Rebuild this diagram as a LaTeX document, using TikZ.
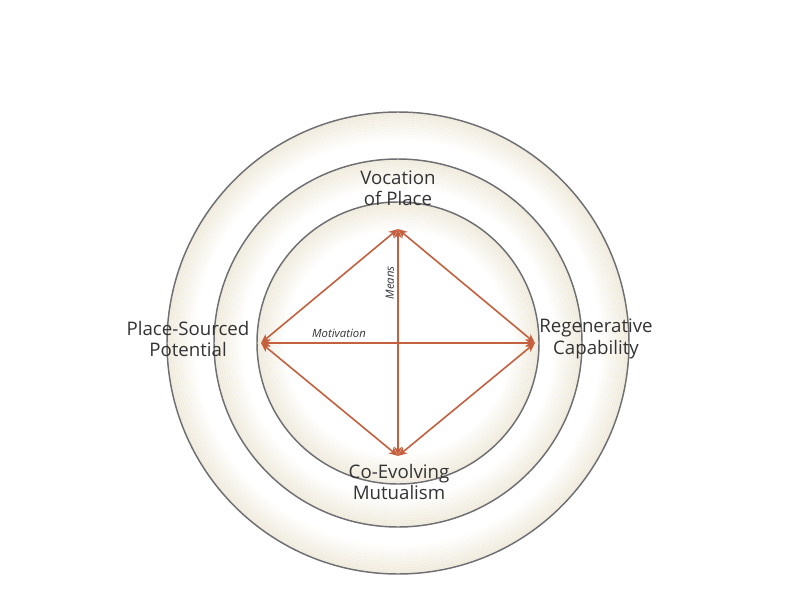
\documentclass[tikz,border=0pt]{standalone}
\usepackage{fontspec}
\setmainfont{Open Sans}
\usetikzlibrary{arrows.meta}
\definecolor{rust}{RGB}{196,96,62}
\definecolor{sand}{RGB}{228,220,196}
\definecolor{ringgray}{RGB}{110,110,115}
\tikzset{
  ring/.style={draw=ringgray, line width=1.1pt},
  link/.style={rust, line width=1.2pt, {Stealth[length=7pt,width=6pt]}-{Stealth[length=7pt,width=6pt]}},
  label/.style={align=center, font=\fontsize{14}{16}\selectfont, text=black!80},
  tag/.style={font=\fontsize{8.5}{10}\selectfont\itshape, text=black!80}
}
\begin{document}
\begin{tikzpicture}[x=0.75pt,y=-0.75pt]
\useasboundingbox (0,0) rectangle (800,600);
\coordinate (O) at (398,343);
%shaded bands
\foreach \r in {231,184,141}{
  \foreach \k in {0,...,13}{
    \pgfmathsetmacro\op{0.45*(1-\k/14)}
    \draw[sand, opacity=\op, line width=2pt] (O) circle ({\r-1-2*\k});
  }
}
%rings
\foreach \r in {231,184,141}{
  \draw[ring] (O) circle (\r);
}
%corners
\coordinate (T) at (398,229);
\coordinate (B) at (398,456);
\coordinate (L) at (261,343);
\coordinate (R) at (535,343);
\node[label] (top) at (398,188) {Vocation\\of Place};
\node[label] (left) at (188,339) {Place-Sourced\\Potential};
\node[label] (right) at (596,339) {Regenerative\\Capability};
\node[label] (bottom) at (399,482) {Co-Evolving\\Mutualism};
%arrows
\draw[link] (T) -- (R);
\draw[link] (R) -- (B);
\draw[link] (B) -- (L);
\draw[link] (L) -- (T);
\draw[link] (T) -- (B);
\draw[link] (L) -- (R);
\node[tag, rotate=90] (means) at (390,283) {Means};
\node[tag] (motiv) at (339,333) {Motivation};
\end{tikzpicture}
\end{document}
